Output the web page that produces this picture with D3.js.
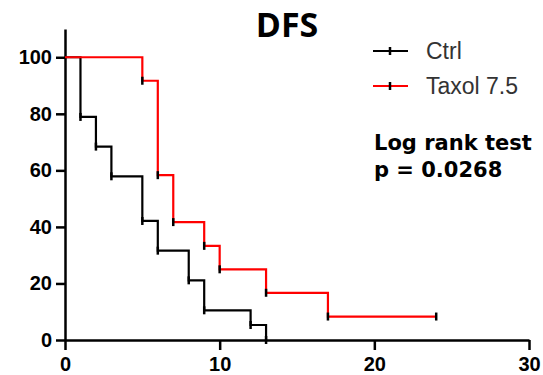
<!DOCTYPE html>
<html>
<head>
<meta charset="utf-8">
<script src="https://cdn.jsdelivr.net/npm/d3@7"></script>
<style>
  body { margin: 0; background: white; }
  .axis text { font-family: "Liberation Sans", Arial, sans-serif; font-weight: bold; font-size: 20px; fill: black; }
  .axis path, .axis line { stroke: black; stroke-width: 2.5; }
</style>
</head>
<body>
<div id="container"></div>
<script>
var width = 543,
    height = 375;

// survival data (percent)
var ctrl_times = [0, 1, 2, 3, 5, 6, 8, 9, 12, 13];
var ctrl_surv = [100, 78.9, 68.4, 57.9, 42.1, 31.6, 21.1, 10.5, 5.3, 0];
var taxol_times = [0, 5, 6, 7, 9, 10, 13, 17, 24];
var taxol_surv = [100, 91.7, 58.3, 41.7, 33.3, 25, 16.7, 8.3, 8.3];
var x_ticks = [0, 10, 20, 30];
var y_ticks = [0, 20, 40, 60, 80, 100];
var series_names = ["Ctrl", "Taxol 7.5"];
var series_colors = ["black", "#ff0000"];

var svg = d3.select("#container")
            .append("svg")
            .attr("width", width)
            .attr("height", height);

var x = d3.scaleLinear().domain([0, 30]).range([65, 529]);
var y = d3.scaleLinear().domain([0, 110]).range([340, 29]);

var xAxis = d3.axisBottom(x)
              .tickValues(x_ticks)
              .tickSize(10)
              .tickSizeOuter(0)
              .tickPadding(7);

var yAxis = d3.axisLeft(y)
              .tickValues(y_ticks)
              .tickSize(9)
              .tickSizeOuter(0)
              .tickPadding(4);

svg.append("g")
   .attr("class", "x axis")
   .attr("transform", "translate(0," + y(0) + ")")
   .call(xAxis);

svg.append("g")
   .attr("class", "y axis")
   .attr("transform", "translate(" + x(0) + ",0)")
   .call(yAxis);

function pts(times, surv) {
  return times.map(function(t, i) { return [t, surv[i]]; });
}

var ctrl = pts(ctrl_times, ctrl_surv),
    taxol = pts(taxol_times, taxol_surv);

var line = d3.line()
    .x(function(d) { return x(d[0]); })
    .y(function(d) { return y(d[1]); })
    .curve(d3.curveStepAfter);

var all = [ctrl, taxol];

svg.selectAll(".km")
   .data(all)
   .enter().append("path")
   .attr("class", "km")
   .attr("d", line)
   .attr("fill", "none")
   .attr("stroke", function(d, i) { return series_colors[i]; })
   .attr("stroke-width", 2.2);

// tick symbols (black) at every point
all.forEach(function(s) {
  svg.append("g").selectAll("line")
     .data(s.slice(1))
     .enter().append("line")
     .attr("x1", function(d) { return x(d[0]); })
     .attr("x2", function(d) { return x(d[0]); })
     .attr("y1", function(d) { return y(d[1]) - 4; })
     .attr("y2", function(d) { return y(d[1]) + 4; })
     .attr("stroke", "black")
     .attr("stroke-width", 2.5);
});

// title
svg.append("text")
   .attr("x", 287)
   .attr("y", 37)
   .attr("text-anchor", "middle")
   .style("font-family", "'Open Sans', sans-serif")
   .style("font-weight", "bold")
   .style("font-size", "34px")
   .text("DFS");

// legend
var legend = svg.append("g").attr("id", "legend");
var ly = [51, 86];
series_names.forEach(function(name, i) {
  legend.append("line")
        .attr("x1", 373).attr("x2", 408)
        .attr("y1", ly[i]).attr("y2", ly[i])
        .attr("stroke", series_colors[i])
        .attr("stroke-width", 2.2);
  legend.append("line")
        .attr("x1", 390).attr("x2", 390)
        .attr("y1", ly[i] - 4).attr("y2", ly[i] + 4)
        .attr("stroke", "black")
        .attr("stroke-width", 2.5);
  legend.append("text")
        .attr("x", 426)
        .attr("y", ly[i] + 8)
        .style("font-family", "'Liberation Sans', Arial, sans-serif")
        .style("font-size", "23px")
        .style("fill", "#333")
        .text(name);
});

svg.append("text")
   .attr("x", 374)
   .attr("y", 150)
   .style("font-family", "'DejaVu Sans', sans-serif")
   .style("font-weight", "bold")
   .style("font-size", "21px")
   .text("Log rank test");

svg.append("text")
   .attr("x", 374)
   .attr("y", 177)
   .style("font-family", "'DejaVu Sans', sans-serif")
   .style("font-weight", "bold")
   .style("font-size", "21px")
   .text("p = 0.0268");
</script>
</body>
</html>
